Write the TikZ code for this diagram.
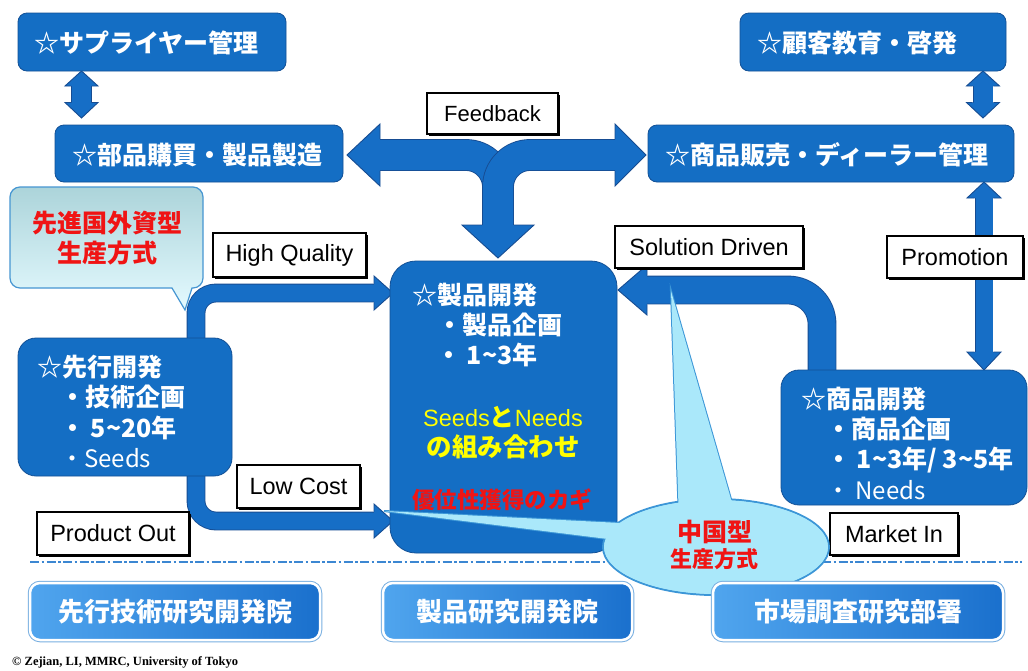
\documentclass[tikz,border=0pt]{standalone}
\usepackage{fontspec}
\usetikzlibrary{shadows}
\newfontfamily\jp{Noto Sans CJK JP}
\newfontfamily\lab{Liberation Sans}
\newfontfamily\cpy{Liberation Serif}
\definecolor{boxblue}{RGB}{20,110,196}
\definecolor{boxedge}{RGB}{18,80,150}
\definecolor{arrblue}{RGB}{22,110,198}
\definecolor{arredge}{RGB}{22,76,146}
\definecolor{calltop}{RGB}{172,212,218}
\definecolor{callbot}{RGB}{228,250,255}
\definecolor{calledge}{RGB}{70,150,210}
\definecolor{bubcol}{RGB}{170,232,250}
\definecolor{bubedge}{RGB}{60,150,215}
\definecolor{redtxt}{RGB}{240,20,20}
\definecolor{yeltxt}{RGB}{255,255,0}
\definecolor{btnlight}{RGB}{80,165,238}
\definecolor{btndark}{RGB}{26,112,205}
\definecolor{btnedge}{RGB}{120,175,225}
\definecolor{dashcol}{RGB}{60,135,210}
\newcommand{\bhead}[5]{\filldraw[fill=arrblue, draw=arredge, line width=0.9pt, line join=miter, shift={(#1)}, rotate=#2] (-#3,#5) -- (-#3,#4) -- (0,0) -- (-#3,-#4) -- (-#3,-#5);}
\newcommand{\tld}{\char"7E\relax}
\begin{document}
\begin{tikzpicture}[x=1pt,y=-1pt,
  bshaft/.style={draw=arredge, double=arrblue, line width=0.9pt, double distance=#1, line cap=butt},
  bluebox/.style={draw=boxedge, fill=boxblue, line width=0.8pt, inner sep=0pt},
  jt/.style={text=white, font=\jp\bfseries\fontsize{25}{25}\selectfont, inner sep=0pt, anchor=west},
  jtr/.style={text=white, font=\jp\fontsize{24}{24}\selectfont, inner sep=0pt, anchor=west},
  lbl/.style={draw=black, line width=1.2pt, fill=white, inner sep=0pt, font=\lab\fontsize{23.5}{23.5}\selectfont,
    drop shadow={shadow xshift=1.6pt, shadow yshift=-1.6pt, opacity=1, fill=black}},
  btn/.style={rounded corners=10pt, left color=btnlight, right color=btndark, draw=white, line width=2.5pt,
    preaction={draw=btnedge, line width=4.5pt}, inner sep=0pt, minimum height=57pt,
    text=white, font=\jp\bfseries\fontsize{26}{26}\selectfont},
  dashline/.style={draw=dashcol, line width=1.6pt, dash pattern=on 9pt off 2.5pt on 2.5pt off 2.5pt}
]
\useasboundingbox (0,0) rectangle (1028,670);
\fill[white] (0,0) rectangle (1028,670);

% dashed separator
\coordinate (dl) at (30,562);
\coordinate (dr) at (1022,562);
\draw[dashline] (dl) -- (dr);

% ---------- block arrows ----------
% supplier <-> purchasing
\draw[bshaft=19pt] (81.5,86) -- (81.5,102.5);
\bhead{81.5,71}{90}{15}{16.5}{10.4}
\bhead{81.5,118}{270}{15.5}{16.5}{10.4}
% customer education <-> sales
\draw[bshaft=19pt] (983,86) -- (983,102.5);
\bhead{983,71}{90}{15}{16.5}{10.4}
\bhead{983,118}{270}{15.5}{16.5}{10.4}
% promotion
\draw[bshaft=17pt] (984,198) -- (984,352);
\bhead{984,182}{90}{16}{17}{9.4}
\bhead{984,370}{270}{18}{17}{9.4}
% feedback T arrow
\draw[bshaft=30pt, rounded corners=32pt] (380,155) -- (498,155) -- (498,225.5);
\draw[bshaft=30pt, rounded corners=32pt] (615,155) -- (498,155) -- (498,225.5);
\bhead{347,155}{180}{33}{31}{15.9}
\bhead{646,155}{0}{31}{31}{15.9}
\bhead{498,258}{270}{33}{36}{15.9}
% high quality elbow
\draw[bshaft=17pt, rounded corners=20pt] (196,340) -- (196,293) -- (374,293);
\bhead{393,293}{0}{19}{17}{9.4}
% low cost elbow
\draw[bshaft=17pt, rounded corners=20pt] (196,474) -- (196,521) -- (374,521);
\bhead{393,521}{0}{19}{17}{9.4}
% solution driven elbow
\draw[bshaft=27pt, rounded corners=34pt] (822,372) -- (822,290) -- (647,290);
\bhead{618,290}{180}{29}{25}{14.4}

% ---------- blue boxes ----------
\node[bluebox, rounded corners=9pt, minimum width=268pt, minimum height=58pt] (sup) at (152,42) {};
\node[bluebox, rounded corners=9pt, minimum width=288pt, minimum height=57pt] (buy) at (199,153.5) {};
\node[bluebox, rounded corners=9pt, minimum width=266pt, minimum height=58pt] (cust) at (873,42) {};
\node[bluebox, rounded corners=9pt, minimum width=366pt, minimum height=57pt] (sales) at (831,153.5) {};
\node[bluebox, rounded corners=18pt, minimum width=214pt, minimum height=138pt] (pre) at (125,407) {};
\node[bluebox, rounded corners=26pt, minimum width=227pt, minimum height=292pt] (prod) at (503.5,407) {};
\node[bluebox, rounded corners=18pt, minimum width=246pt, minimum height=135pt] (mkt) at (904,437.5) {};

\node[jt] (supT) at (34,43) {☆サプライヤー管理};
\node[jt] (buyT) at (72,155) {☆部品購買・製品製造};
\node[jt] (custT) at (757,43) {☆顧客教育・啓発};
\node[jt] (salesT) at (665,155) {☆商品販売・ディーラー管理};

\node[jt] (preA) at (37,367) {☆先行開発};
\node[jt] (preB) at (60,397) {・技術企画};
\node[jt] (preC) at (60,428) {・ 5\tld 20年};
\node[jtr] (preD) at (60,458) {・Seeds};

\node[jt] (prodA) at (412,295) {☆製品開発};
\node[jt] (prodB) at (437,325) {・製品企画};
\node[jt] (prodC) at (436,355) {・ 1\tld 3年};
\node[text=yeltxt, font=\lab\fontsize{23.5}{23.5}\selectfont, inner sep=0pt] (prodD) at (503,417) {Seeds{\jp\bfseries\fontsize{25}{25}\selectfont と}Needs};
\node[text=yeltxt, font=\jp\bfseries\fontsize{25.5}{25.5}\selectfont, inner sep=0pt] (prodE) at (503,447) {の組み合わせ};
\node[text=redtxt, font=\jp\bfseries\fontsize{22.5}{22.5}\selectfont, inner sep=0pt] (prodF) at (502,500) {優位性獲得のカギ};

\node[jt] (mktA) at (801,399) {☆商品開発};
\node[jt] (mktB) at (826,429) {・商品企画};
\node[jt] (mktC) at (826,460) {・ 1\tld 3年/ 3\tld 5年};
\node[jtr] (mktD) at (826,490) {・ Needs};

% ---------- labels ----------
\node[lbl, minimum width=131pt, minimum height=41pt, font=\lab\fontsize{22}{22}\selectfont] (fb) at (492.5,113.5) {Feedback};
\node[lbl, minimum width=153pt, minimum height=44pt] (hq) at (289.5,255) {High Quality};
\node[lbl, minimum width=188pt, minimum height=42pt] (sd) at (709,247) {Solution Driven};
\node[lbl, minimum width=136pt, minimum height=42pt] (promo) at (955,257) {Promotion};
\node[lbl, minimum width=123pt, minimum height=43pt] (lc) at (298.5,486.5) {Low Cost};
\node[lbl, minimum width=152pt, minimum height=43pt] (po) at (113,533.5) {Product Out};
\node[lbl, minimum width=128pt, minimum height=42pt] (mi) at (894,534) {Market In};

% ---------- callout: advanced-country type ----------
\path[top color=calltop, bottom color=callbot, draw=calledge, line width=1.2pt]
  (172,288) [rounded corners=10pt] -- (10,288) -- (10,187) -- (203,187) -- (203,288) [sharp corners] -- (192,288) -- (185,310) -- cycle;
\node[text=redtxt, font=\jp\bfseries\fontsize{25}{25}\selectfont, inner sep=0pt] (advA) at (107,223) {先進国外資型};
\node[text=redtxt, font=\jp\bfseries\fontsize{25}{25}\selectfont, inner sep=0pt] (advB) at (107,253) {生産方式};

% ---------- callout: Chinese type ----------
\begin{scope}
\draw[fill=bubcol, draw=bubedge, line width=2pt] (384,511) -- (640,524) -- (640,543) -- cycle;
\draw[fill=bubcol, draw=bubedge, line width=2pt] (671,291) -- (737,520) -- (679,520) -- cycle;
\draw[fill=bubcol, draw=bubedge, line width=2pt] (716,547) ellipse [x radius=113, y radius=48];
\fill[bubcol] (384,511) -- (640,524) -- (640,543) -- cycle;
\fill[bubcol] (671,291) -- (737,520) -- (679,520) -- cycle;
\fill[bubcol] (716,547) ellipse [x radius=112, y radius=47];
\end{scope}
\node[text=redtxt, font=\jp\bfseries\fontsize{25}{25}\selectfont, inner sep=0pt] (cnA) at (715,532) {中国型};
\node[text=redtxt, font=\jp\bfseries\fontsize{22}{22}\selectfont, inner sep=0pt] (cnB) at (714,559) {生産方式};

% ---------- bottom buttons ----------
\node[btn, minimum width=290pt] (b1) at (175,611.5) {先行技術研究開発院};
\node[btn, minimum width=249pt] (b2) at (507.5,611.5) {製品研究開発院};
\node[btn, minimum width=290pt] (b3) at (858,611.5) {市場調査研究部署};

\node[anchor=west, inner sep=0pt, font=\cpy\bfseries\fontsize{12.5}{12.5}\selectfont] (copy) at (12,662) {© Zejian, LI, MMRC, University of Tokyo};
\end{tikzpicture}
\end{document}
